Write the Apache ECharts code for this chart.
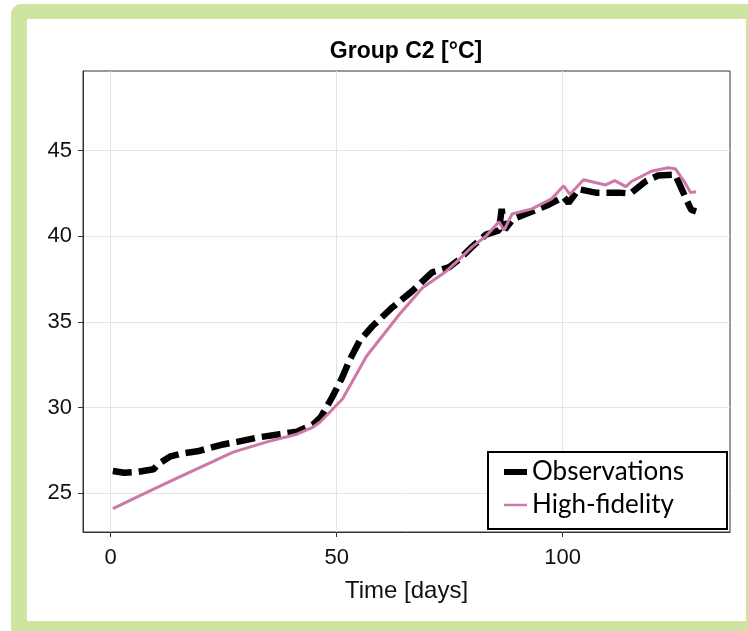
<!DOCTYPE html>
<html><head><meta charset="utf-8">
<script src="https://cdn.jsdelivr.net/npm/echarts@6/dist/echarts.min.js"></script>
<style>
html,body{margin:0;padding:0;width:748px;height:631px;overflow:hidden;background:#fff;}
#frame{position:absolute;left:11px;top:4px;width:780px;height:660px;background:#cfe4a0;border-radius:10px;}
#panel{position:absolute;left:27px;top:19px;width:719px;height:602px;background:#fff;}
#chart{position:absolute;left:0;top:0;width:748px;height:631px;}
</style></head><body>
<div id="frame"></div><div id="panel"></div><div id="chart"></div>
<script>
const titleText = 'Group C2 [°C]';
const xName = 'Time [days]';
const seriesNames = ['Observations', 'High-fidelity'];
const xTicks = [0, 50, 100];
const yTicks = [25, 30, 35, 40, 45];

const obsDays = [0.5, 3, 6, 9.5, 10.5, 13.2, 15.4, 19.2, 24.9, 28, 32.4, 37.4, 41.2, 44.7, 46.5, 49.1, 51.3, 52.9, 55.1, 57.9, 62.3, 66.7, 71.1, 74.9, 77.1, 80.0, 83.0, 85.9, 86.5, 87.2, 89.0, 93.2, 96.9, 100.2, 101.3, 103.5, 107.3, 112.3, 115.0, 118.3, 121.1, 124.9, 127.1, 128.4, 129.5];
const obsTemps = [26.3, 26.2, 26.25, 26.4, 26.7, 27.15, 27.3, 27.45, 27.85, 28.0, 28.25, 28.45, 28.6, 29.0, 29.45, 30.65, 31.8, 32.8, 33.9, 34.75, 35.85, 36.8, 37.9, 38.2, 38.65, 39.4, 40.1, 40.35, 41.6, 40.4, 41.0, 41.45, 41.85, 42.3, 41.95, 42.75, 42.55, 42.55, 42.5, 43.2, 43.55, 43.6, 42.3, 41.55, 41.45];

const hfDays = [0.5, 8, 14.8, 21.4, 27.1, 34.6, 41.2, 44.7, 46.3, 51.3, 56.6, 63.9, 69.0, 74.2, 77.1, 80.0, 83.0, 85.9, 87.0, 88.8, 93.2, 97.6, 100.2, 101.6, 104.6, 109.5, 111.5, 114.0, 115.2, 119.6, 123.3, 124.9, 127.1, 128.3, 129.5];
const hfTemps = [24.1, 25.05, 25.9, 26.7, 27.4, 28.0, 28.45, 28.85, 29.15, 30.5, 33.0, 35.45, 37.0, 37.95, 38.65, 39.4, 40.0, 40.85, 40.35, 41.3, 41.6, 42.2, 42.95, 42.45, 43.3, 43.0, 43.25, 42.9, 43.2, 43.8, 44.0, 43.95, 43.1, 42.55, 42.6];

const zip = (a, b) => a.map((v, i) => [v, b[i]]);
const font = 'Liberation Sans, Arial, sans-serif';
const axisColor = '#333';

const chart = echarts.init(document.getElementById('chart'), null, {renderer: 'canvas'});
chart.setOption({
  animation: false,
  backgroundColor: 'transparent',
  title: {
    text: titleText, left: 406, top: 40, padding: 0, textAlign: 'center',
    textStyle: {fontFamily: font, fontSize: 23, fontWeight: 'bold', color: '#000'}
  },
  grid: {left: 83, top: 71, right: 18, bottom: 99, show: true, borderColor: axisColor, borderWidth: 1, containLabel: false},
  xAxis: {
    type: 'value', min: -6.1, max: 137,
    name: xName, nameLocation: 'middle', nameGap: 47,
    nameTextStyle: {fontFamily: font, fontSize: 24, color: '#111'},
    axisLine: {show: true, onZero: false, lineStyle: {color: axisColor, width: 1}},
    axisTick: {show: true, length: 5, customValues: xTicks, lineStyle: {color: axisColor}},
    axisLabel: {customValues: xTicks, fontFamily: font, fontSize: 22, color: '#111', margin: 15},
    splitLine: {show: true, lineStyle: {color: '#e4e4e4', width: 1}}
  },
  yAxis: {
    type: 'value', min: 22.74, max: 49.65,
    axisLine: {show: true, onZero: false, lineStyle: {color: axisColor, width: 1}},
    axisTick: {show: true, length: 5, customValues: yTicks, lineStyle: {color: axisColor}},
    axisLabel: {customValues: yTicks, fontFamily: font, fontSize: 22, color: '#111', margin: 11},
    splitLine: {show: true, lineStyle: {color: '#e4e4e4', width: 1}}
  },
  legend: {
    orient: 'vertical', left: 488, top: 452,
    padding: [5, 43, 9, 16],
    borderColor: '#000', borderWidth: 2, backgroundColor: '#fff',
    itemWidth: 23, itemHeight: 14, itemGap: 3, itemTextGap: 7,
    textStyle: {fontFamily: 'Lato, sans-serif', fontSize: 26, color: '#000', lineHeight: 30},
    selectedMode: false,
    data: [
      {name: seriesNames[0], icon: 'path://M0,0H23V6H0Z', itemStyle: {color: '#000', borderWidth: 0}},
      {name: seriesNames[1], icon: 'path://M0,0H23V2.5H0Z', itemStyle: {color: '#cc79a7', borderWidth: 0}}
    ]
  },
  series: [
    {
      name: seriesNames[0], type: 'line', data: zip(obsDays, obsTemps),
      showSymbol: false, symbol: 'none', smooth: false,
      itemStyle: {color: '#000'},
      lineStyle: {color: '#000', width: 6.5, type: [19, 7], cap: 'butt', join: 'bevel'}
    },
    {
      name: seriesNames[1], type: 'line', data: zip(hfDays, hfTemps),
      showSymbol: false, symbol: 'none', smooth: false,
      itemStyle: {color: '#cc79a7'},
      lineStyle: {color: '#cc79a7', width: 3}
    }
  ]
});
</script>
</body></html>
